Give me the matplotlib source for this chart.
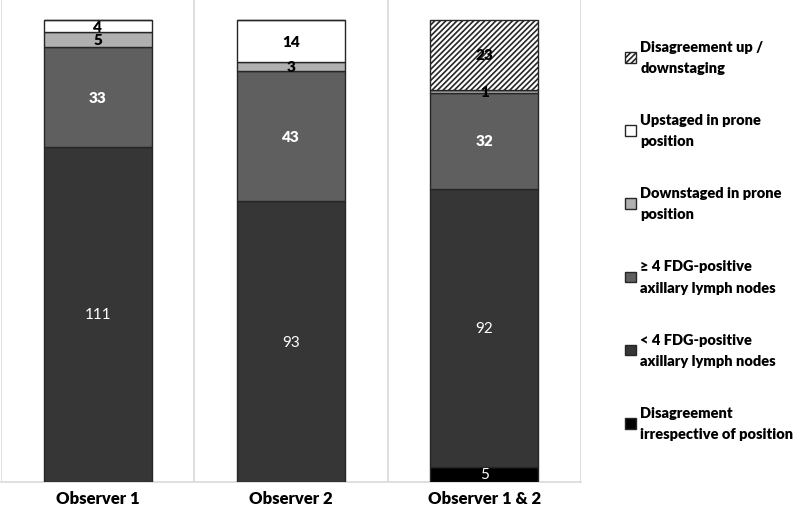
import numpy as np
import matplotlib.pyplot as plt
from matplotlib.patches import Patch

plt.rcParams['font.family'] = ['Lato', 'DejaVu Sans']
plt.rcParams['hatch.color'] = '#7a7a7a'
plt.rcParams['hatch.linewidth'] = 1.2

categories = ['Observer 1', 'Observer 2', 'Observer 1 & 2']
disagree_any = [0, 0, 5]
lt4 = [111, 93, 92]
ge4 = [33, 43, 32]
downstaged = [5, 3, 1]
upstaged = [4, 14, 0]
disagree_updown = [0, 0, 23]

series = [
    ('Disagreement\nirrespective of position', disagree_any, '#000000', None, 'white', 'normal'),
    ('< 4 FDG-positive\naxillary lymph nodes', lt4, '#363636', None, 'white', 'normal'),
    ('\u2265 4 FDG-positive\naxillary lymph nodes', ge4, '#5f5f5f', None, 'white', 'heavy'),
    ('Downstaged in prone\nposition', downstaged, '#b0b0b0', None, 'black', 'heavy'),
    ('Upstaged in prone\nposition', upstaged, '#ffffff', None, 'black', 'heavy'),
    ('Disagreement up /\ndownstaging', disagree_updown, '#ffffff', '//////', 'black', 'heavy'),
]

fig = plt.figure(figsize=(7.97, 5.10), dpi=100)
ax = fig.add_axes([1 / 797, 27 / 510, 580 / 797, 483 / 510])

x = np.arange(len(categories))
bottom = np.zeros(len(categories))
handles = []
for label, vals, color, hatch, tcol, tw in series:
    vals = np.array(vals, dtype=float)
    ax.bar(x, vals, 0.56, bottom=bottom, color=color, edgecolor='#262626',
           linewidth=1.0, hatch=hatch, zorder=3)
    for i, v in enumerate(vals):
        if v > 0:
            ax.text(x[i], bottom[i] + v / 2, '%d' % v, ha='center', va='center',
                    color=tcol, fontsize=11, fontweight=tw, zorder=4)
    bottom += vals
    handles.append(Patch(facecolor=color, edgecolor='#262626', hatch=hatch, label=label))

ax.set_xlim(-0.5, 2.5)
ax.set_ylim(0, 160)
for b in [-0.5, 0.5, 1.5, 2.5]:
    ax.axvline(b, color='#d9d9d9', linewidth=1.2, zorder=1)
for s in ['top', 'left', 'right']:
    ax.spines[s].set_visible(False)
ax.spines['bottom'].set_color('#d9d9d9')
ax.spines['bottom'].set_linewidth(1.2)
ax.set_yticks([])
ax.set_xticks(x)
ax.set_xticklabels(categories, fontsize=12, fontweight='heavy')
ax.tick_params(axis='x', length=0, pad=6)

leg = fig.legend(handles=handles[::-1], loc='upper left', bbox_to_anchor=(619 / 797, 1 - 35 / 510),
                 frameon=False, prop={'weight': 'heavy', 'size': 10.5},
                 handlelength=0.75, handleheight=0.75, handletextpad=0.3, labelspacing=2.67,
                 borderaxespad=0)
for t in leg.get_texts():
    t.set_linespacing(1.75)

fig.savefig('out.png', dpi=100)
